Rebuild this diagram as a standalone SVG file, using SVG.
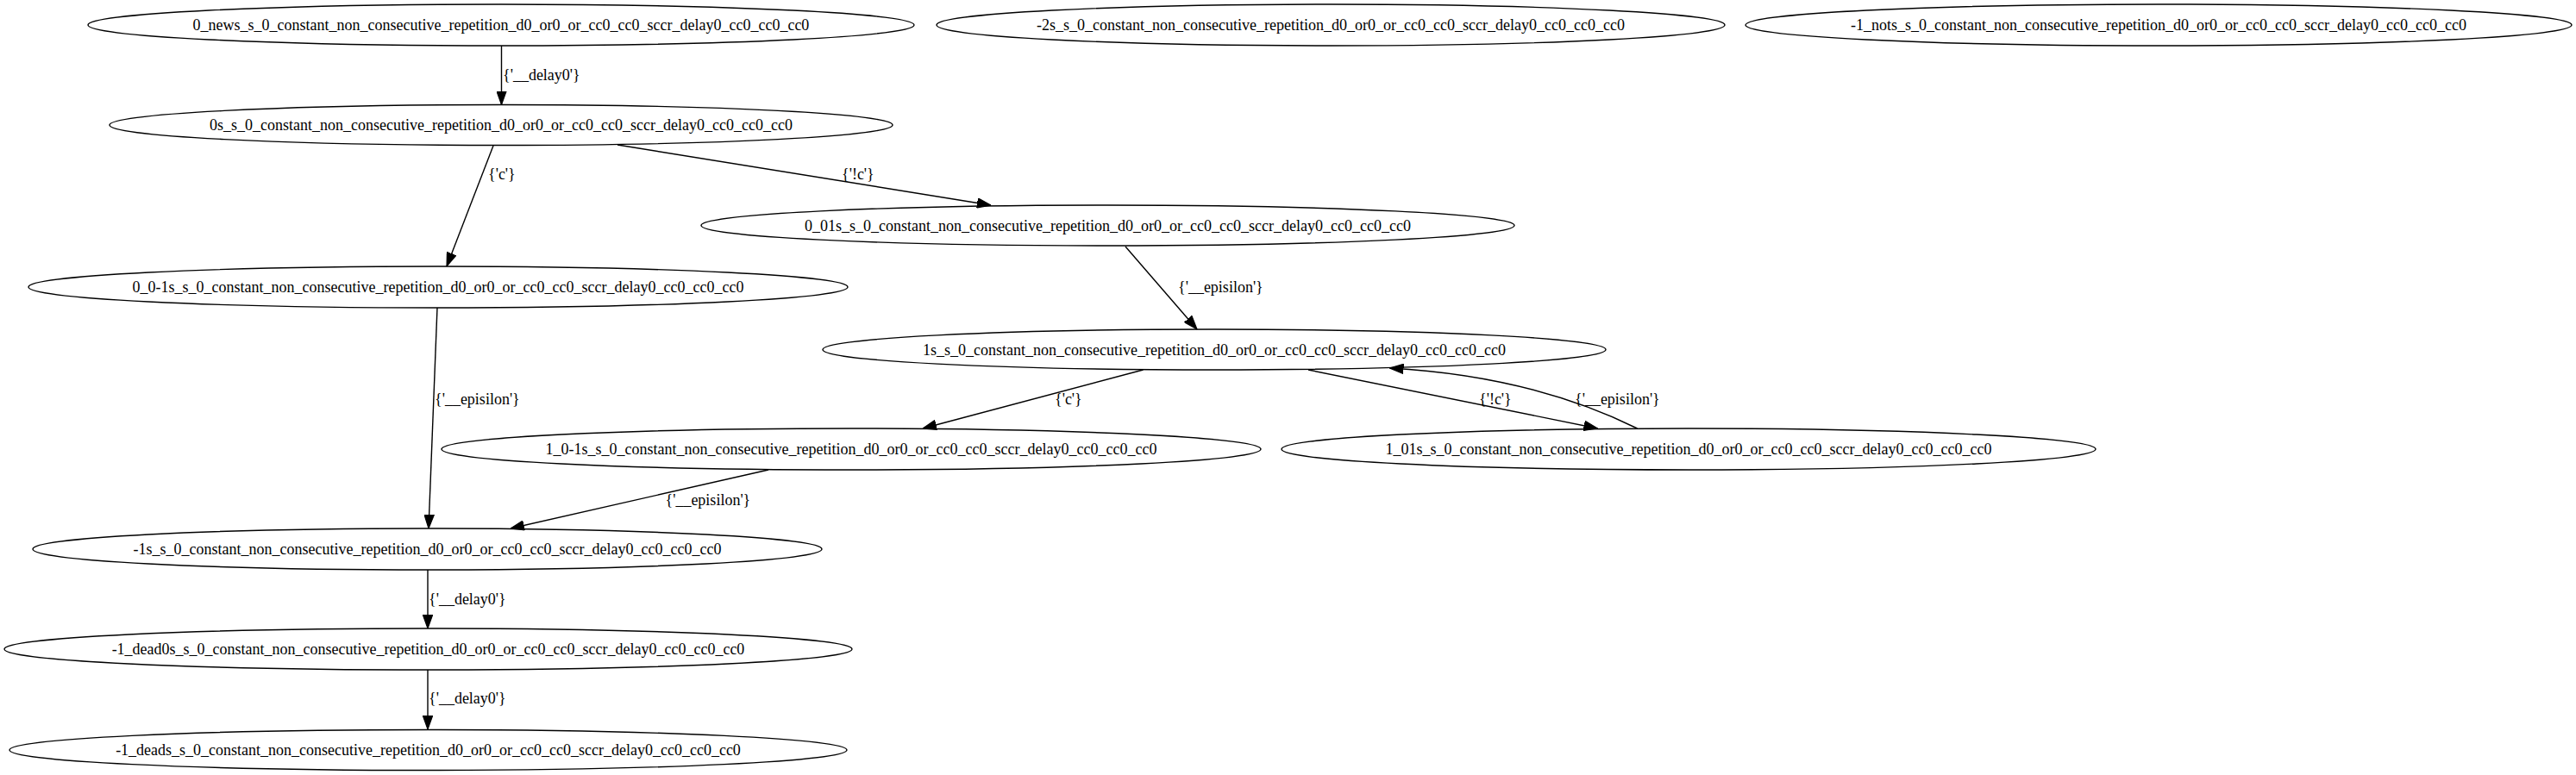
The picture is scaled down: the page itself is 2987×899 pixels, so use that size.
<svg xmlns="http://www.w3.org/2000/svg" width="2987" height="899" viewBox="0 0 2987 899">
<style>
.n ellipse{fill:none;stroke:#000;stroke-width:1.4}
.n text{font-family:"Liberation Serif","Times New Roman",serif;font-size:18px;text-anchor:middle;fill:#000}
.e path{fill:none;stroke:#000;stroke-width:1.4}
.e text{font-family:"Liberation Serif","Times New Roman",serif;font-size:18px;fill:#000}
</style>
<defs>
<marker id="ah" markerUnits="userSpaceOnUse" markerWidth="16" markerHeight="12" viewBox="0 0 14 10" refX="14" refY="5" orient="auto">
<path d="M0,0 L14,5 L0,10 Z" fill="#000" stroke="#000" stroke-width="1"/>
</marker>
</defs>
<rect width="2987" height="899" fill="#fff"/>
<g id="n_0_news" class="n"><ellipse cx="581" cy="29" rx="479" ry="24"/><text x="581" y="35">0_news_s_0_constant_non_consecutive_repetition_d0_or0_or_cc0_cc0_sccr_delay0_cc0_cc0_cc0</text></g>
<g id="n_m2s" class="n"><ellipse cx="1543" cy="29" rx="457" ry="24"/><text x="1543" y="35">-2s_s_0_constant_non_consecutive_repetition_d0_or0_or_cc0_cc0_sccr_delay0_cc0_cc0_cc0</text></g>
<g id="n_m1_nots" class="n"><ellipse cx="2503" cy="29" rx="479" ry="24"/><text x="2503" y="35">-1_nots_s_0_constant_non_consecutive_repetition_d0_or0_or_cc0_cc0_sccr_delay0_cc0_cc0_cc0</text></g>
<g id="n_0s" class="n"><ellipse cx="581" cy="145" rx="454" ry="23.5"/><text x="581" y="151">0s_s_0_constant_non_consecutive_repetition_d0_or0_or_cc0_cc0_sccr_delay0_cc0_cc0_cc0</text></g>
<g id="n_0_01s" class="n"><ellipse cx="1284.5" cy="261.5" rx="471.5" ry="23.5"/><text x="1284.5" y="267.5">0_01s_s_0_constant_non_consecutive_repetition_d0_or0_or_cc0_cc0_sccr_delay0_cc0_cc0_cc0</text></g>
<g id="n_0_0m1s" class="n"><ellipse cx="508" cy="333" rx="475" ry="24"/><text x="508" y="339">0_0-1s_s_0_constant_non_consecutive_repetition_d0_or0_or_cc0_cc0_sccr_delay0_cc0_cc0_cc0</text></g>
<g id="n_1s" class="n"><ellipse cx="1408" cy="405.5" rx="454" ry="23.5"/><text x="1408" y="411.5">1s_s_0_constant_non_consecutive_repetition_d0_or0_or_cc0_cc0_sccr_delay0_cc0_cc0_cc0</text></g>
<g id="n_1_0m1s" class="n"><ellipse cx="987" cy="521" rx="475" ry="24"/><text x="987" y="527">1_0-1s_s_0_constant_non_consecutive_repetition_d0_or0_or_cc0_cc0_sccr_delay0_cc0_cc0_cc0</text></g>
<g id="n_1_01s" class="n"><ellipse cx="1958" cy="521" rx="472" ry="24"/><text x="1958" y="527">1_01s_s_0_constant_non_consecutive_repetition_d0_or0_or_cc0_cc0_sccr_delay0_cc0_cc0_cc0</text></g>
<g id="n_m1s" class="n"><ellipse cx="495.5" cy="637" rx="457.5" ry="24"/><text x="495.5" y="643">-1s_s_0_constant_non_consecutive_repetition_d0_or0_or_cc0_cc0_sccr_delay0_cc0_cc0_cc0</text></g>
<g id="n_m1_dead0s" class="n"><ellipse cx="496.5" cy="753" rx="491.5" ry="24"/><text x="496.5" y="759">-1_dead0s_s_0_constant_non_consecutive_repetition_d0_or0_or_cc0_cc0_sccr_delay0_cc0_cc0_cc0</text></g>
<g id="n_m1_deads" class="n"><ellipse cx="496.5" cy="870" rx="485.5" ry="23.5"/><text x="496.5" y="876">-1_deads_s_0_constant_non_consecutive_repetition_d0_or0_or_cc0_cc0_sccr_delay0_cc0_cc0_cc0</text></g>
<g id="edges" class="e">
<path d="M581.5,53 L581.5,121.5" marker-end="url(#ah)"/>
<text x="583" y="93">{'__delay0'}</text>
<path d="M572,169 L518,309" marker-end="url(#ah)"/>
<text x="566" y="208">{'c'}</text>
<path d="M716,168 L1149,238" marker-end="url(#ah)"/>
<text x="976" y="208">{'!c'}</text>
<path d="M1305,286 L1388,382" marker-end="url(#ah)"/>
<text x="1366" y="339">{'__episilon'}</text>
<path d="M507,357 L497,613" marker-end="url(#ah)"/>
<text x="504" y="469">{'__episilon'}</text>
<path d="M1325.5,429 L1070,497" marker-end="url(#ah)"/>
<text x="1223" y="469">{'c'}</text>
<path d="M1517,429 L1852.5,497" marker-end="url(#ah)"/>
<text x="1715" y="469">{'!c'}</text>
<path d="M1898.5,497 Q1775,436 1611.5,427" marker-end="url(#ah)"/>
<text x="1826" y="469">{'__episilon'}</text>
<path d="M891,545 L592,613" marker-end="url(#ah)"/>
<text x="771.5" y="586">{'__episilon'}</text>
<path d="M496,661 L496,729" marker-end="url(#ah)"/>
<text x="497" y="701">{'__delay0'}</text>
<path d="M496,777 L496,846" marker-end="url(#ah)"/>
<text x="497" y="816">{'__delay0'}</text>
</g>
</svg>
